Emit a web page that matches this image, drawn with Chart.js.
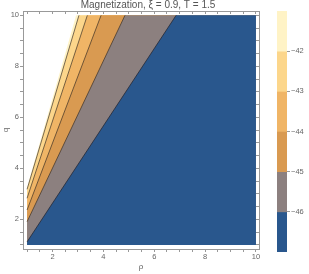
<!DOCTYPE html>
<html>
<head>
<meta charset="utf-8">
<script src="https://cdn.jsdelivr.net/npm/chart.js@4.4.1/dist/chart.umd.min.js"></script>
<style>
  html, body { margin: 0; padding: 0; background: #fff; }
  #wrap { position: relative; width: 309px; height: 274px; }
  #main { position: absolute; left: 0; top: 0; }
  #bar { position: absolute; left: 270px; top: 0; }
</style>
</head>
<body>
<div id="wrap">
  <canvas id="main" width="296" height="274"></canvas>
  <canvas id="bar" width="39" height="274"></canvas>
</div>
<script>
// contour levels and band colours (top band = above -42, last = below -46)
const levels = [-42, -43, -44, -45, -46];
const bandColors = ['#FFF3C6', '#FCD68B', '#F0B566', '#D99A51', '#8C807F', '#29578D'];
const lineColors = ['#A88A5A', '#7A5A32', '#6E5030', '#5C4838', '#2A2A33'];

// where each boundary meets the left edge (p = 1) and the top edge (q = 10)
// first entry is the edge of the computed region (white beyond it)
const edgeQ = [3.25, 3.18, 2.83, 2.37, 1.91, 1.12];
const edgeP = [2.93, 3.04, 3.37, 3.91, 4.85, 6.86];

const pMin = 1, pMax = 10, qMin = 1, qMax = 10;
const grey = '#999';
const textGrey = '#666';

// ============================
// Konturflater
// ============================
const fillSets = edgeQ.map((q0, i) => ({
  data: [{ x: pMin, y: q0 }, { x: edgeP[i], y: qMax }, { x: pMax, y: qMax }],
  backgroundColor: bandColors[i],
  borderWidth: 0,
  pointRadius: 0,
  fill: { value: qMin },
  order: 10 - i
}));

const lineSets = levels.map((lv, k) => ({
  data: [{ x: pMin, y: edgeQ[k + 1] }, { x: edgeP[k + 1], y: qMax }],
  borderColor: k === 4 ? 'rgba(35,35,45,0.9)' : 'rgba(55,45,35,0.85)',
  borderWidth: 0.8,
  pointRadius: 0,
  fill: false,
  order: 0
}));

const tickLabel = v => (v % 2 === 0 ? String(v) : '');

function frameAxis(position, extra) {
  return Object.assign({
    type: 'linear',
    position: position,
    grid: { drawOnChartArea: false, tickLength: 3, color: grey, tickColor: grey },
    border: { display: true, color: grey, width: 1 },
    ticks: { stepSize: 0.5, includeBounds: false, autoSkip: false, maxRotation: 0,
             color: textGrey, font: { size: 7.5, family: 'Liberation Sans' }, callback: tickLabel }
  }, extra);
}

new Chart(document.getElementById('main'), {
  type: 'line',
  data: { datasets: [...lineSets, ...fillSets] },
  options: {
    responsive: false,
    animation: false,
    devicePixelRatio: 1,
    layout: { padding: { left: 0, right: 0, top: 0, bottom: 0 } },
    plugins: {
      legend: { display: false },
      tooltip: { enabled: false },
      title: {
        display: true,
        text: 'Magnetization, ξ = 0.9, T = 1.5',
        color: '#555',
        font: { size: 10, family: 'Liberation Sans', weight: 'normal', lineHeight: 1.1 },
        padding: { top: 0, bottom: 0 }
      }
    },
    scales: {
      x: frameAxis('bottom', {
        min: 0.84, max: 10.12,
        ticks: { stepSize: 0.5, includeBounds: false, autoSkip: false, maxRotation: 0, padding: 0,
                 color: textGrey, font: { size: 7.5, family: 'Liberation Sans' }, callback: tickLabel },
        title: { display: true, text: 'ρ', color: textGrey, font: { size: 8, family: 'Liberation Sans' },
                 padding: { top: 0, bottom: 2 } },
        afterFit: s => { s.height = 25; }
      }),
      y: frameAxis('left', {
        min: 0.84, max: 10.17,
        ticks: { stepSize: 0.5, includeBounds: false, autoSkip: false, padding: 1,
                 color: textGrey, font: { size: 7.5, family: 'Liberation Sans' }, callback: tickLabel },
        title: { display: true, text: 'q', color: textGrey, font: { size: 8, family: 'Liberation Sans' },
                 padding: { top: 1, bottom: 0 } },
        afterFit: s => { s.width = 23; }
      }),
      x2: frameAxis('top', {
        min: 0.84, max: 10.12,
        grid: { drawOnChartArea: false, tickLength: -3, color: grey, tickColor: grey },
        ticks: { stepSize: 0.5, includeBounds: false, display: false },
        afterFit: s => { s.height = 0; }
      }),
      y2: frameAxis('right', {
        min: 0.84, max: 10.17,
        grid: { drawOnChartArea: false, tickLength: -3, color: grey, tickColor: grey },
        ticks: { stepSize: 0.5, includeBounds: false, display: false },
        afterFit: s => { s.width = 37; }
      })
    }
  }
});

// ============================
// Fargeskala
// ============================
const bandRanges = [[-42, -41], [-43, -42], [-44, -43], [-45, -44], [-46, -45], [-47, -46]];

new Chart(document.getElementById('bar'), {
  type: 'bar',
  data: {
    labels: [''],
    datasets: bandRanges.map((r, i) => ({
      data: [r],
      backgroundColor: bandColors[i],
      borderWidth: 0,
      barPercentage: 1,
      categoryPercentage: 1,
      grouped: false
    }))
  },
  options: {
    responsive: false,
    animation: false,
    devicePixelRatio: 1,
    layout: { padding: { left: 7, right: 0, top: 11, bottom: 22 } },
    plugins: { legend: { display: false }, tooltip: { enabled: false } },
    scales: {
      x: { display: false },
      y: {
        position: 'right',
        min: -47, max: -41,
        z: 1,
        border: { display: false },
        grid: {
          drawOnChartArea: true,
          tickLength: 3,
          tickColor: ctx => (levels.includes(ctx.tick.value) ? grey : 'rgba(0,0,0,0)'),
          color: ctx => {
            const k = levels.indexOf(ctx.tick.value);
            return k >= 0 ? lineColors[k] : 'rgba(0,0,0,0)';
          },
          lineWidth: 1
        },
        ticks: {
          stepSize: 1,
          padding: 1,
          color: textGrey,
          font: { size: 7.5, family: 'Liberation Sans' },
          callback: v => (levels.includes(v) ? '\u2212' + Math.abs(v) : '')
        },
        afterFit: s => { s.width = 22; }
      }
    }
  }
});
</script>
</body>
</html>
